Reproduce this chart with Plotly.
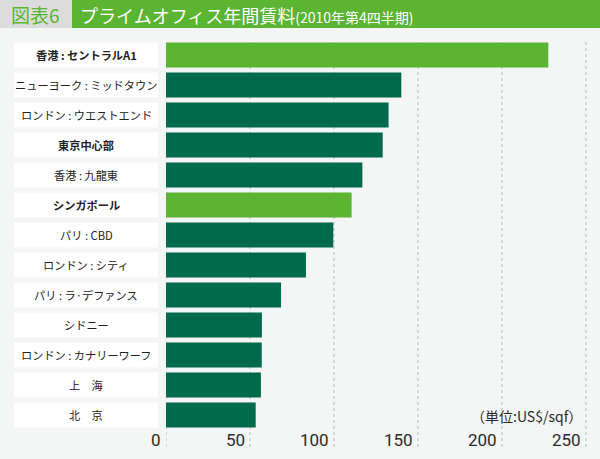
import plotly.graph_objects as go

categories = ["香港 : セントラルA1", "ニューヨーク : ミッドタウン", "ロンドン : ウエストエンド", "東京中心部",
              "香港 : 九龍東", "シンガポール", "パリ : CBD", "ロンドン : シティ", "パリ : ラ·デファンス",
              "シドニー", "ロンドン : カナリーワーフ", "上　海", "北　京"]
values = [227.6, 140.1, 132.5, 129.0, 116.9, 110.5, 99.6, 83.3, 68.5, 57.1, 57.0, 56.5, 53.4]
bold_label = [True, False, False, True, False, True, False, False, False, False, False, False, False]
light_bar = [True, False, False, False, False, True, False, False, False, False, False, False, False]
tick_vals = [0, 50, 100, 150, 200, 250]

LIGHT = "#5bb432"
DARK = "#006a4b"
BG = "#f4f5f5"
FONT = "Noto Sans CJK JP"

W, H = 600, 459
L, R, T, B = 166, 4, 40, 29
PW, PH = W - L - R, H - T - B

def px(x):
    return (x - L) / PW

def py(y):
    return (H - B - y) / PH

colors = [LIGHT if lb else DARK for lb in light_bar]

fig = go.Figure()
fig.add_trace(go.Bar(
    y=categories, x=values, orientation="h",
    marker=dict(color=colors, line=dict(width=0)),
    hoverinfo="x+y",
))

shapes = []
annotations = []

# gridlines
for v in tick_vals:
    shapes.append(dict(type="line", xref="x", yref="paper", x0=v, x1=v,
                       y0=py(447), y1=py(41),
                       line=dict(color="#b8b8b8", width=1, dash="dot"), layer="below"))
    annotations.append(dict(x=v, xref="x", y=py(440), yref="paper", text=str(v),
                            xanchor="right", yanchor="middle", xshift=-3, showarrow=False,
                            font=dict(family="Roboto, " + FONT, size=17, color="#2a2a2a")))

# category label boxes
for i, (c, b) in enumerate(zip(categories, bold_label)):
    shapes.append(dict(type="rect", xref="paper", yref="y", x0=px(14), x1=px(158),
                       y0=i - 0.4167, y1=i + 0.4167, fillcolor="white",
                       line=dict(width=0), layer="below"))
    txt = f"<b>{c}</b>" if b else c
    annotations.append(dict(x=px(86), xref="paper", y=c, yref="y", text=txt,
                            xanchor="center", yanchor="middle", showarrow=False,
                            font=dict(family=FONT, size=11.2, color="#222222")))

# header
shapes.append(dict(type="rect", xref="paper", yref="paper", x0=px(0), x1=px(72),
                   y0=py(28), y1=py(0), fillcolor="#dcdcdc", line=dict(width=0)))
shapes.append(dict(type="rect", xref="paper", yref="paper", x0=px(72), x1=px(600),
                   y0=py(28), y1=py(0), fillcolor=LIGHT, line=dict(width=0)))
annotations.append(dict(x=px(9), xref="paper", y=py(14.5), yref="paper", text="図表6",
                        xanchor="left", yanchor="middle", showarrow=False,
                        font=dict(family=FONT, size=19, color=LIGHT)))
annotations.append(dict(x=px(78), xref="paper", y=py(14.5), yref="paper",
                        text="プライムオフィス年間賃料<span style='font-size:14px'>(2010年第4四半期)</span>",
                        xanchor="left", yanchor="middle", showarrow=False,
                        font=dict(family=FONT, size=18, color="white")))

# unit
annotations.append(dict(x=px(584), xref="paper", y=py(416), yref="paper", text="（単位:US$/sqf）",
                        xanchor="right", yanchor="middle", showarrow=False,
                        font=dict(family=FONT, size=14, color="#2a2a2a")))

fig.update_layout(
    width=W, height=H,
    margin=dict(l=L, r=R, t=T, b=B),
    paper_bgcolor=BG, plot_bgcolor=BG,
    bargap=0.1667,
    showlegend=False,
    shapes=shapes,
    annotations=annotations,
    xaxis=dict(range=[0, 256], showgrid=False, zeroline=False, showticklabels=False,
               ticks="", fixedrange=True),
    yaxis=dict(categoryorder="array", categoryarray=categories, autorange="reversed",
               showticklabels=False, showgrid=False, zeroline=False, ticks="", fixedrange=True),
    font=dict(family=FONT),
)

fig.write_html("out.html")
